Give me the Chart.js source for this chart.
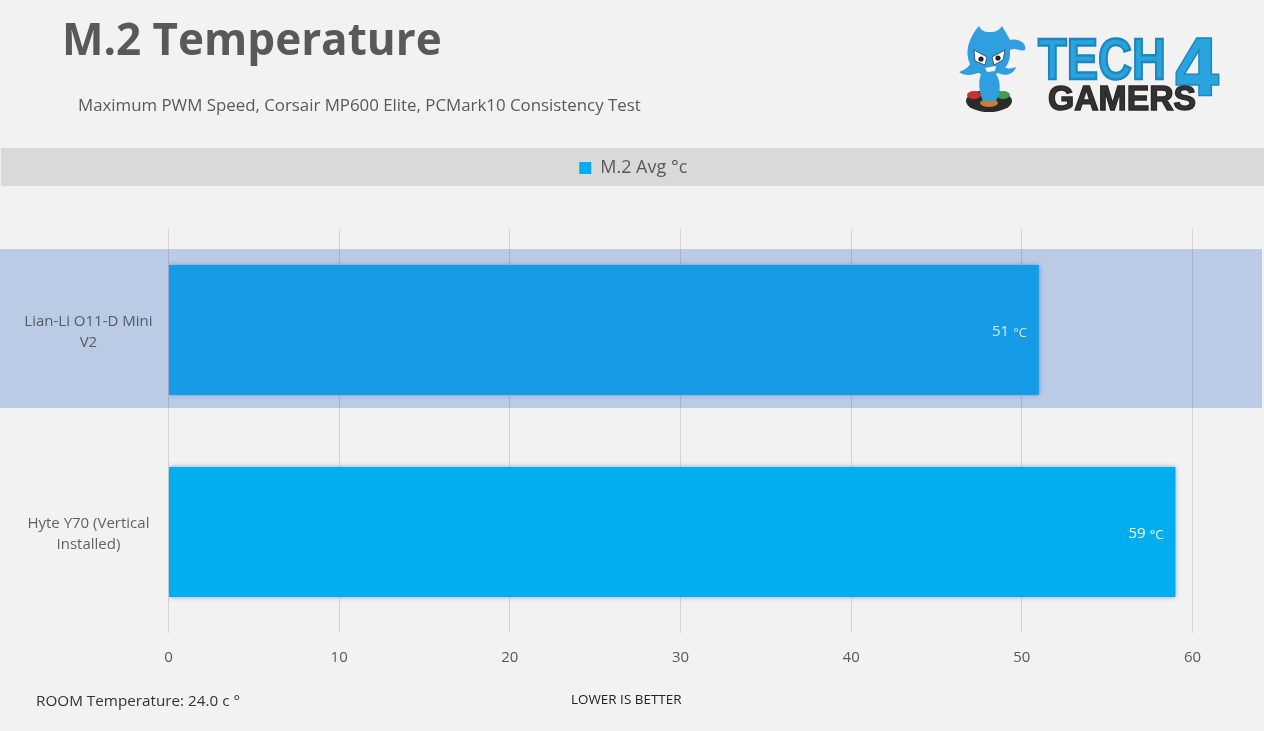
<!DOCTYPE html>
<html>
<head>
<meta charset="utf-8">
<title>M.2 Temperature</title>
<script src="https://cdn.jsdelivr.net/npm/chart.js@4"></script>
<style>
  html, body { margin: 0; padding: 0; background: #f2f2f2; overflow: hidden; }
  #wrap { position: relative; width: 1264px; height: 731px; font-family: "Open Sans", sans-serif; }
  #stage { position: absolute; left: 0; top: 0; }
  .txt { position: absolute; white-space: nowrap; line-height: 1; }
  #title { left: 62px; top: 16px; font-size: 44px; font-weight: 700; color: #595959; }
  #sub { left: 78px; top: 97px; font-size: 16.85px; color: #595959; }
  #room { left: 36px; top: 693px; font-size: 15.25px; color: #333; }
  #lower { left: 571px; top: 693px; font-size: 13.45px; color: #222; }
  #logo { position: absolute; left: 950px; top: 20px; }
</style>
</head>
<body>
<div id="wrap">
  <canvas id="stage" width="1264" height="731"></canvas>
  <div class="txt" id="title">M.2 Temperature</div>
  <div class="txt" id="sub">Maximum PWM Speed, Corsair MP600 Elite, PCMark10 Consistency Test</div>
  <div class="txt" id="room">ROOM Temperature: 24.0 c °</div>
  <div class="txt" id="lower">LOWER IS BETTER</div>
  <svg id="logo" width="285" height="100" viewBox="950 20 285 100">
    <!-- base -->
    <ellipse cx="989" cy="101" rx="23" ry="11" fill="#2b2b2b"/>
    <ellipse cx="974" cy="95" rx="7" ry="4" fill="#c8312d"/>
    <ellipse cx="1003" cy="95" rx="7" ry="4" fill="#3fa047"/>
    <ellipse cx="989" cy="103" rx="9" ry="4" fill="#c77f33"/>
    <!-- mascot -->
    <path d="M979 26 C970 36 966 48 968 58 C970 68 976 72 981 74 C978 82 979 92 983 101 L996 101 C1001 92 1001 82 996 74 C1006 70 1011 62 1010 50 C1016 47 1020 52 1025 50 C1027 44 1020 38 1010 40 C1007 34 1004 30 1002 26 C998 32 994 32 988 32 C984 32 981 30 979 26 Z" fill="#2f9fe0"/>
    <path d="M972 62 C968 68 964 70 959 72 C964 76 972 76 980 72 Z M1002 66 C1008 70 1012 68 1016 67 C1014 74 1006 77 998 73 Z" fill="#2f9fe0"/>
    <path d="M974 50 L987 57 L985 65 L975 61 Z M1005 50 L992 57 L994 65 L1003 60 Z" fill="#fff" stroke="#1d3f5e" stroke-width="0.8"/>
    <circle cx="981" cy="59" r="2.6" fill="#222"/><circle cx="998" cy="58" r="2.6" fill="#222"/>
    <path d="M985 68 L996 66 L995 71 L987 72 Z" fill="#fff"/>
    <!-- wordmark -->
    <g font-family="'Liberation Sans', sans-serif" font-weight="700">
      <text x="1038" y="79" font-size="58" textLength="128" lengthAdjust="spacingAndGlyphs" fill="#29a3dd" stroke="#1f86bd" stroke-width="2.5">TECH</text>
      <text x="1173" y="95" font-family="'DejaVu Sans', sans-serif" font-size="78" textLength="49" lengthAdjust="spacingAndGlyphs" fill="#29a3dd" stroke="#1f86bd" stroke-width="1.5">4</text>
      <text x="1048" y="110" font-size="35" textLength="148" lengthAdjust="spacingAndGlyphs" fill="#333" stroke="#2a2a2a" stroke-width="1.5">GAMERS</text>
    </g>
  </svg>
</div>
<script>
// データ
const categories = [["Lian-Li O11-D Mini", "V2"], ["Hyte Y70 (Vertical", "Installed)"]];
const avgTemps = [51, 59];
const barColors = ["#169ce6", "#00aeef"];
const labelColors = ["#d5e8f8", "#ffffff"];
const seriesName = "M.2 Avg °c";
const unit = "°C";
const legendColor = "#00aeef";

const FONT = '"Open Sans", sans-serif';

// 背景の帯
const bands = {
    id: 'bands',
    beforeInit(chart) {
        // 凡例の下に余白を取る
        const fit = chart.legend.fit;
        chart.legend.fit = function() {
            fit.call(this);
            this.height = 81;
        };
    },
    afterLayout(chart) {
        // 凡例は画像全体の中央より少し右
        chart.legend.left += 34;
        chart.legend.right += 34;
    },
    beforeDraw(chart) {
        const ctx = chart.ctx, y = chart.scales.y;
        ctx.save();
        ctx.fillStyle = "#f2f2f2";
        ctx.fillRect(0, 0, chart.width, chart.height);
        ctx.fillStyle = "#d9d9d9";
        ctx.fillRect(1, 148, chart.width, 38);
        ctx.fillStyle = "#bccbe5";
        const mid = y.getPixelForValue(0);
        ctx.fillRect(0, mid - 81, 1262, 159);
        ctx.restore();
    },
    beforeDatasetsDraw(chart) {
        const ctx = chart.ctx;
        ctx.save();
        ctx.shadowColor = "rgba(91,125,205,0.9)";
        ctx.shadowBlur = 5;
    },
    afterDatasetsDraw(chart) {
        const ctx = chart.ctx;
        ctx.restore();
        // 値ラベル
        ctx.save();
        ctx.textBaseline = "middle";
        chart.getDatasetMeta(0).data.forEach((bar, i) => {
            ctx.fillStyle = labelColors[i];
            ctx.textAlign = "right";
            ctx.font = '13px ' + FONT;
            ctx.fillText(unit, bar.x - 12, bar.y + 3);
            const w = ctx.measureText(unit).width;
            ctx.font = '15px ' + FONT;
            ctx.fillText(avgTemps[i], bar.x - 12 - w - 4, bar.y + 2);
        });
        ctx.restore();
    }
};

const chart = new Chart(document.getElementById('stage'), {
    type: 'bar',
    data: {
        labels: categories,
        datasets: [{
            label: seriesName,
            data: avgTemps,
            backgroundColor: barColors,
            borderWidth: 0,
            categoryPercentage: 1,
            barPercentage: 0.644
        }]
    },
    options: {
        responsive: false,
        animation: false,
        indexAxis: 'y',
        layout: { padding: { top: 148, left: 6, right: 71.5, bottom: 51 } },
        plugins: {
            title: { display: false },
            tooltip: { enabled: false },
            legend: {
                display: true,
                position: 'top',
                labels: {
                    boxWidth: 12,
                    boxHeight: 12,
                    padding: 11,
                    color: "#595959",
                    font: { family: FONT, size: 18 },
                    generateLabels(c) {
                        return Chart.defaults.plugins.legend.labels.generateLabels(c)
                            .map(l => Object.assign(l, { fillStyle: legendColor, lineWidth: 0 }));
                    }
                }
            }
        },
        scales: {
            x: {
                min: 0,
                max: 60,
                ticks: {
                    stepSize: 10,
                    padding: 16,
                    color: "#595959",
                    font: { family: FONT, size: 15 }
                },
                grid: { color: "rgba(0,0,0,0.12)", drawTicks: false },
                border: { display: false },
                afterFit(scale) { scale.height = 47; }
            },
            y: {
                ticks: {
                    crossAlign: 'center',
                    padding: 8,
                    labelOffset: 2,
                    color: "rgba(60,60,60,0.8)",
                    font: { family: FONT, size: 15, lineHeight: 1.4 }
                },
                grid: { display: false },
                border: { display: false },
                afterFit(scale) { scale.width = 162.5; }
            }
        }
    },
    plugins: [bands]
});
</script>
</body>
</html>
